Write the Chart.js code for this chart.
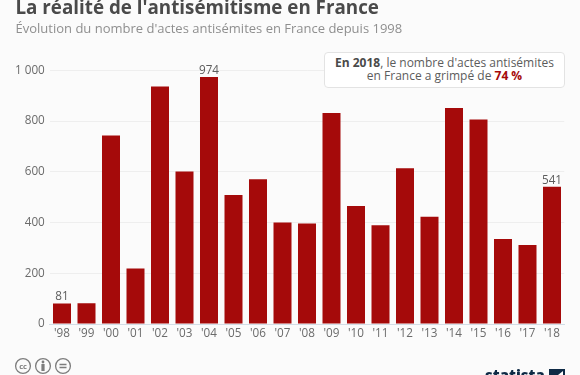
<!DOCTYPE html>
<html><head><meta charset="utf-8">
<script src="https://cdn.jsdelivr.net/npm/chart.js@4"></script>
<style>
html,body{margin:0;padding:0;background:#fbfbfb;width:580px;height:375px;overflow:hidden;font-family:"Open Sans",sans-serif}
#wrap{position:relative;width:580px;height:375px}
canvas#c{position:absolute;left:0;top:0}
.t{position:absolute;white-space:nowrap}
#title{left:15.5px;top:-7px;font-size:18.8px;font-weight:700;color:#4a4a4a;line-height:28px}
#sub{left:15.5px;top:17.5px;font-size:13px;color:#8f8f8f;line-height:20px}
#box{position:absolute;box-sizing:border-box;left:324px;top:52px;width:241px;height:35.5px;background:#fff;border:1px solid #e3e3e3;border-radius:4px;text-align:center;font-size:12px;line-height:13.7px;color:#5c5c5c;padding-top:2.5px;white-space:nowrap}
#box b{color:#4a4a4a;font-weight:700}
#box b.r{color:#a50a0a}
#logo{left:485px;top:365px;font-size:15px;font-weight:800;color:#0f2b46;line-height:20px}
#cc{position:absolute;left:14px;top:357px}
#mark{position:absolute;left:549px;top:369px}
</style></head><body>
<div id="wrap">
<canvas id="c" width="580" height="375"></canvas>
<div class="t" id="title">La réalité de l'antisémitisme en France</div>
<div class="t" id="sub">Évolution du nombre d'actes antisémites en France depuis 1998</div>
<div id="box"><span><b>En 2018</b>, le nombre d'actes antisémites</span><br><span>en France a grimpé de <b class="r">74 %</b></span></div>
<svg id="cc" width="60" height="18" fill="none" stroke="#7d7d7d" stroke-width="1.3">
<circle cx="9" cy="9" r="7.4"/><circle cx="29" cy="9" r="7.4"/><circle cx="49" cy="9" r="7.4"/>
<text x="9" y="11.5" font-size="7.5" font-weight="700" text-anchor="middle" fill="#7d7d7d" stroke="none" font-family="Open Sans">cc</text>
<circle cx="29" cy="5" r="1.4" fill="#7d7d7d" stroke="none"/><rect x="27.4" y="7" width="3.2" height="7" fill="#7d7d7d" stroke="none"/>
<path d="M45.5 7.5h7M45.5 10.5h7"/>
</svg>
<div class="t" id="logo">statista</div>
<svg id="mark" width="16" height="6"><rect width="16" height="6" fill="#0f2b46"/><path d="M9 6l5-4v4z" fill="#fff"/></svg>
</div>
<script>
const categories=["'98","'99","'00","'01","'02","'03","'04","'05","'06","'07","'08","'09","'10","'11","'12","'13","'14","'15","'16","'17","'18"];
const acts=[81,82,743,219,936,601,974,508,571,400,396,832,465,389,614,423,851,806,335,311,541];
const labelled=[0,6,20];
const yTicks=[0,200,400,600,800,1000];
const valueLabels={id:'valueLabels',afterDatasetsDraw(ch){
  const m=ch.getDatasetMeta(0),x=ch.ctx;
  x.save();x.font='11.7px "Open Sans"';x.fillStyle='#5c5c5c';x.textAlign='center';x.textBaseline='alphabetic';
  labelled.forEach(i=>x.fillText(String(acts[i]),m.data[i].x,m.data[i].y-3));
  x.restore();
}};
new Chart(document.getElementById('c'),{
  type:'bar',
  data:{labels:categories,datasets:[{data:acts,backgroundColor:'#a50a0a',borderWidth:0,barPercentage:0.735,categoryPercentage:1}]},
  options:{
    responsive:false,animation:false,
    layout:{padding:{left:0,right:15.75,top:70.3,bottom:0}},
    plugins:{legend:{display:false},tooltip:{enabled:false}},
    scales:{
      x:{grid:{display:false,drawTicks:false},border:{color:'#d3dde6',width:1},
         afterFit(s){s.height=51},
         ticks:{color:'#6b6b6b',font:{family:'"Open Sans"',size:11.7},maxRotation:0,autoSkip:false,padding:3}},
      y:{min:0,max:1000,afterFit(s){s.width=49.75},
         afterBuildTicks(s){s.ticks=yTicks.map(v=>({value:v}))},
         grid:{color:'#eeeeee',drawTicks:false},border:{display:false},
         ticks:{color:'#6b6b6b',padding:5,font:{family:'"Open Sans"',size:11.7},
           callback:v=>v===1000?'1 000':String(v)}}
    }
  },
  plugins:[valueLabels]
});
</script>
</body></html>
